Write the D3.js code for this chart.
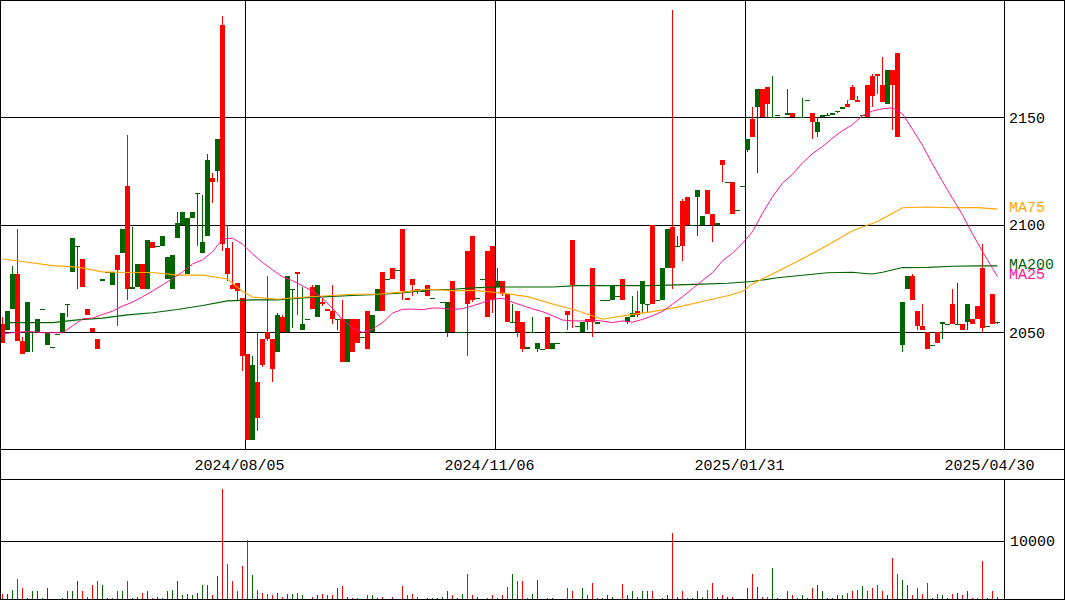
<!DOCTYPE html>
<html><head><meta charset="utf-8">
<script src="https://cdn.jsdelivr.net/npm/d3@7"></script>
<style>
body{margin:0;background:#fff}
svg{display:block}
text{font-family:"Liberation Mono","DejaVu Sans Mono",monospace;font-size:15px}
</style>
</head><body>
<svg id="c" width="1065" height="600"></svg>
<script>
// ---- data ----
const open=[2045,2060,2077,2046,2040,2064,2050,2056,2061,2050,
2043,2049,2059,2063,2094,2090,2071,2058,2050,2042,
2075,2078,2078,2079,2098,2070,2071,2082,2070,2093,
2089,2090,2095,2085,2086,2101,2106,2103,2106,2115,
2092,2130,2120,2140,2091,2077,2070,2069,2039,2000,
2035,2010,2035,2047,2033,2058,2050,2076,2070,2077,
2054,2056,2061,2072,2063,2060,2056,2056,2036,2056,
2041,2045,2048,2042,2058,2070,2060,2075,2075,2079,
2069,2065,2072,2069,2069,2067,2066,2070,2064,2064,
2050,2050,2050,2063,2065,2066,2075,2057,2065,2074,
2068,2055,2055,2050,2042,2043,2050,2045,2042,2042,
2045,2045,2050,2058,2072,2053,2055,2055,2055,2055,
2065,2065,2072,2067,2065,2057,2059,2058,2074,2063,
2063,2065,2080,2098,2080,2090,2090,2100,2100,2116,
2104,2105,2100,2101,2128,2120,2105,2107,2118,2140,
2141,2163,2150,2156,2150,2151,2150,2152,2150,2150,
2150,2158,2148,2148,2151,2151,2152,2153,2155,2155,
2158,2157,2151,2150,2160,2169,2157,2172,2165,2141,
2064,2076,2065,2053,2051,2042,2044,2045,2055,2054,
2054,2054,2051,2063,2054,2056,2052,2053,2054,2055];
const close=[2054,2051,2061,2077,2046,2041,2050,2050,2061,2044,
2043,2049,2050,2063,2078,2090,2084,2061,2052,2047,
2074,2078,2072,2086,2087,2118,2070,2071,2082,2070,
2092,2090,2090,2075,2070,2094,2100,2077,2103,2115,
2087,2095,2122,2125,2193,2089,2072,2073,2066,2040,
2000,2027,2047,2050,2047,2041,2057,2050,2070,2078,
2051,2056,2071,2057,2064,2061,2060,2056,2056,2036,
2056,2056,2048,2060,2050,2060,2078,2075,2080,2079,
2098,2066,2075,2070,2069,2072,2066,2070,2064,2050,
2074,2050,2050,2088,2095,2066,2075,2088,2090,2071,
2074,2068,2055,2060,2055,2042,2050,2042,2042,2057,
2042,2045,2050,2060,2093,2053,2050,2056,2080,2054,
2065,2065,2065,2067,2075,2055,2057,2060,2063,2063,
2100,2065,2065,2080,2099,2090,2111,2113,2100,2113,
2100,2116,2105,2100,2130,2120,2120,2107,2118,2135,
2149,2155,2163,2164,2150,2151,2150,2151,2152,2150,
2150,2158,2152,2143,2150,2151,2151,2153,2154,2156,
2164,2158,2151,2165,2169,2170,2165,2156,2172,2180,
2044,2070,2076,2060,2053,2050,2044,2050,2054,2054,
2063,2054,2054,2055,2056,2062,2080,2053,2068,2055];
const high=[2057,2060,2081,2098,2048,2064,2050,2056,2061,2050,
2043,2049,2059,2063,2094,2090,2084,2061,2052,2047,
2075,2078,2078,2086,2098,2142,2099,2082,2082,2093,
2092,2090,2095,2085,2086,2106,2106,2103,2106,2115,
2114,2133,2124,2140,2197,2100,2092,2073,2066,2040,
2039,2050,2047,2076,2047,2059,2058,2076,2070,2078,
2071,2056,2072,2072,2066,2061,2072,2056,2065,2056,
2056,2056,2048,2060,2058,2070,2078,2075,2080,2079,
2098,2066,2075,2070,2069,2072,2066,2070,2064,2064,
2074,2050,2050,2088,2095,2066,2075,2088,2090,2080,
2074,2068,2063,2060,2055,2043,2057,2045,2042,2057,
2045,2045,2050,2060,2093,2053,2055,2056,2080,2055,
2065,2065,2072,2067,2075,2057,2067,2069,2074,2063,
2100,2065,2080,2098,2200,2095,2112,2113,2100,2116,
2104,2116,2105,2101,2130,2120,2120,2107,2118,2140,
2155,2163,2163,2164,2169,2151,2150,2163,2152,2150,
2159,2158,2152,2150,2151,2152,2152,2153,2155,2158,
2165,2160,2151,2165,2170,2170,2178,2172,2172,2180,
2064,2076,2077,2060,2063,2050,2044,2050,2055,2054,
2070,2073,2054,2063,2056,2062,2091,2053,2068,2055];
const low=[2045,2051,2061,2046,2040,2041,2041,2050,2061,2044,
2043,2049,2050,2057,2078,2070,2071,2058,2050,2042,
2074,2078,2072,2053,2087,2065,2070,2071,2070,2070,
2089,2090,2090,2075,2070,2094,2100,2077,2103,2090,
2087,2095,2110,2120,2088,2074,2070,2065,2032,2000,
2000,2004,2034,2046,2027,2041,2050,2050,2052,2058,
2051,2056,2061,2057,2062,2060,2054,2051,2036,2036,
2041,2045,2048,2042,2050,2060,2060,2075,2075,2079,
2065,2065,2067,2068,2069,2067,2066,2070,2064,2048,
2050,2050,2050,2039,2064,2066,2075,2057,2059,2071,
2067,2055,2055,2048,2041,2042,2050,2041,2042,2042,
2042,2045,2050,2051,2052,2053,2050,2051,2048,2054,
2065,2065,2065,2067,2065,2054,2057,2057,2059,2059,
2063,2065,2065,2080,2070,2090,2083,2100,2100,2095,
2100,2105,2092,2100,2120,2120,2105,2107,2118,2134,
2141,2124,2150,2150,2150,2151,2150,2151,2150,2150,
2150,2158,2140,2141,2150,2151,2151,2152,2154,2155,
2158,2157,2151,2150,2155,2161,2157,2156,2144,2141,
2041,2070,2065,2051,2051,2042,2044,2045,2047,2054,
2054,2054,2051,2051,2054,2056,2050,2053,2054,2054];
const volume=[900,900,1600,3500,1800,200,1300,1400,200,1800,
0,0,200,1300,1400,3000,1400,400,2400,3000,
2400,200,200,1300,1400,3000,200,400,1100,1400,
200,400,200,1400,1600,3000,700,900,700,1100,
2400,2400,700,4000,18800,6000,3000,1300,5700,10100,
4100,1600,1100,900,600,1100,400,900,900,1100,
700,0,400,600,900,600,700,1800,2300,400,
200,200,0,600,600,200,400,0,400,0,
2300,700,900,400,0,200,200,200,400,1300,
700,200,900,4300,700,400,0,200,600,200,
600,2100,4300,3100,3000,200,900,3300,0,200,
200,0,0,1800,1400,0,1800,700,2800,200,
200,600,400,0,2600,700,1400,400,1400,1300,
1400,0,200,600,11300,400,1400,200,200,1400,
400,1600,2800,400,700,400,400,0,0,1800,
4300,2100,400,400,5300,200,0,1300,700,200,
700,200,1800,2400,1300,200,200,700,700,1100,
1300,1600,2300,1300,1800,2400,1300,600,7000,4300,
3300,2400,600,1800,900,2800,200,900,700,200,
900,1100,600,1300,200,200,6500,200,1300,400];

const ma25Idx=d3.range(0,200,2).concat([199]);
const ma25=[2049.3,2049.8,2050.2,2050.3,2049.8,2049.8,2049.8,2053,2056.3,2056.6,
2058.3,2059.8,2062.2,2064,2066.5,2069.2,2072,2075,2078,2081.8,
2083.7,2087.5,2093.3,2093.8,2091,2086.5,2082.5,2079.1,2075.8,2074,
2071.6,2069.2,2065.8,2061.2,2055.8,2052,2049.9,2051.5,2054.5,2058.9,
2060.7,2060.8,2060.5,2061.3,2061.2,2060.6,2061,2062.3,2063.8,2065.4,
2065.8,2064,2062.4,2060.9,2059.6,2057.7,2055.7,2055.3,2055.3,2055.7,
2055.2,2054.5,2055.3,2054.7,2056,2057.7,2059.7,2063.1,2066.5,2070.3,
2074.1,2077.7,2083.3,2086.8,2091.4,2096.8,2105.4,2113,2119.4,2123.5,
2128.8,2133.1,2136.4,2140.3,2143.8,2146.6,2150.8,2152.9,2154,2154.4,
2151.6,2144.4,2136.9,2128.3,2120.1,2112.3,2104.6,2095.8,2087.5,2079.8,
2075.9];
const ma75Idx=[0,5,10,15,20,25,30,35,40,45,48,50,55,60,65,70,75,80,85,90,95,100,105,110,115,120,125,130,135,140,145,148,150,155,160,165,170,175,180,185,190,195,199];
const ma75=[2084.1,2082.6,2081,2080.3,2078.1,2077.8,2077.8,2076.6,2076.6,2074.8,2069,2066.4,2065.4,2066.3,2067,2067.7,2067.7,2068.8,2070,2069.4,2069.4,2068.2,2066.6,2063.2,2060,2056.1,2058,2059.6,2061.7,2064.3,2067,2069,2072.5,2078.3,2084.2,2090.5,2097.2,2101.5,2107.9,2108.3,2107.9,2108,2107.3];
const ma200Idx=[1,5,10,15,20,25,30,35,40,45,50,55,60,65,70,75,80,85,90,95,100,105,110,115,120,130,140,145,150,155,160,165,170,172,174,176,180,185,190,195,199];
const ma200=[2054.5,2054.5,2054.5,2055.8,2056.6,2058.1,2059.1,2060.6,2062.5,2064.6,2065.1,2065.1,2066,2066.6,2067.1,2067.6,2068.3,2069.7,2070,2070.8,2071.1,2071.1,2071.1,2071.7,2071.7,2071.7,2072.4,2072.8,2073.6,2075.4,2076.5,2077.7,2077.9,2077.5,2077.1,2077.9,2080.1,2080.2,2080.7,2080.9,2080.9];

const dateLabels=["2024/08/05","2024/11/06","2025/01/31","2025/04/30"];
const dateIdx=[49,99,149,199];
const priceTicks=[2050,2100,2150];
const volTicks=[10000];

// ---- styles ----
const RED="#ff0000", GREEN="#006400", PINK="#ff1493", ORANGE="#ffa500";
const N=open.length;

const svg=d3.select("#c");
const x=d3.scaleLinear().domain([0,200]).range([0,1000]);
const y=d3.scaleLinear().domain([1995.72,2204.56]).range([449,0]);
const yv=d3.scaleLinear().domain([0,10000]).range([599,540.5]);
const snap=v=>Math.round(v)+0.5;

const col=i=>close[i]>open[i]?RED:GREEN;

// grid / axes for price
const gAxis=svg.append("g").attr("shape-rendering","crispEdges");
gAxis.selectAll("line.ph").data(priceTicks).join("line")
  .attr("x1",0).attr("x2",1004).attr("y1",d=>snap(y(d))).attr("y2",d=>snap(y(d)))
  .attr("stroke","#000");
gAxis.selectAll("text.pl").data(priceTicks).join("text")
  .attr("x",1009).attr("y",d=>y(d)).attr("dy","0.35em").text(d=>d);
gAxis.selectAll("line.vd").data(dateIdx.slice(0,3)).join("line")
  .attr("x1",d=>x(d)+0.5).attr("x2",d=>x(d)+0.5).attr("y1",0).attr("y2",449)
  .attr("stroke","#000");
svg.selectAll("text.dl").data(dateLabels).join("text")
  .attr("x",(d,k)=>x(dateIdx[k])-5.5).attr("y",465).attr("dy","0.35em")
  .attr("text-anchor","middle").text(d=>d);

// volume grid
gAxis.selectAll("line.vh").data(volTicks).join("line")
  .attr("x1",0).attr("x2",1004).attr("y1",d=>snap(yv(d))).attr("y2",d=>snap(yv(d)))
  .attr("stroke","#000");
svg.selectAll("text.vl").data(volTicks).join("text")
  .attr("x",1010).attr("y",d=>yv(d)).attr("dy","0.35em").text(d=>d);

// candles
const gC=svg.append("g").attr("shape-rendering","crispEdges");
const idx=d3.range(N);
gC.selectAll("rect.w").data(idx).join("rect")
  .attr("x",i=>x(i)+2).attr("width",1)
  .attr("y",i=>Math.round(y(high[i])))
  .attr("height",i=>Math.max(1,Math.round(y(low[i]))-Math.round(y(high[i]))))
  .attr("fill",col);
gC.selectAll("rect.b").data(idx).join("rect")
  .attr("x",i=>x(i)).attr("width",5)
  .attr("y",i=>Math.round(y(Math.max(open[i],close[i]))))
  .attr("height",i=>Math.max(1,Math.round(y(Math.min(open[i],close[i])))-Math.round(y(Math.max(open[i],close[i])))))
  .attr("fill",col);

// volume bars
gC.selectAll("rect.v").data(idx.filter(i=>volume[i]>0)).join("rect")
  .attr("x",i=>x(i)+2).attr("width",1)
  .attr("y",i=>599-Math.max(1,Math.round(599-yv(volume[i]))))
  .attr("height",i=>Math.max(1,Math.round(599-yv(volume[i]))))
  .attr("fill",col);

// moving averages
const line=d3.line().x(d=>x(d[0]+0.5)).y(d=>y(d[1]));
function ma(ix,vals,color,w){
  svg.append("path").datum(ix.map((k,j)=>[k,vals[j]]))
    .attr("d",line).attr("fill","none").attr("stroke",color).attr("stroke-width",w);
}
ma(ma200Idx,ma200,GREEN,1.1);
ma(ma75Idx,ma75,ORANGE,1.1);
ma(ma25Idx,ma25,PINK,1);

// MA labels (overlap of MA200 / MA25 as in the reference)
svg.append("text").attr("x",1009).attr("y",207).attr("dy","0.35em").attr("fill",ORANGE).text("MA75");
svg.append("text").attr("x",1009).attr("y",264).attr("dy","0.35em").attr("fill",GREEN).text("MA200");
svg.append("text").attr("x",1009).attr("y",274).attr("dy","0.35em").attr("fill",PINK).text("MA25");

// frame
const gF=svg.append("g").attr("shape-rendering","crispEdges").attr("stroke","#000").attr("fill","none");
gF.append("rect").attr("x",0.5).attr("y",0.5).attr("width",1064).attr("height",599);
gF.append("line").attr("x1",0).attr("x2",1065).attr("y1",449.5).attr("y2",449.5);
gF.append("line").attr("x1",0).attr("x2",1065).attr("y1",479.5).attr("y2",479.5);
gF.append("line").attr("x1",1004.5).attr("x2",1004.5).attr("y1",0).attr("y2",449);
gF.append("line").attr("x1",1004.5).attr("x2",1004.5).attr("y1",479).attr("y2",600);
</script>
</body></html>
